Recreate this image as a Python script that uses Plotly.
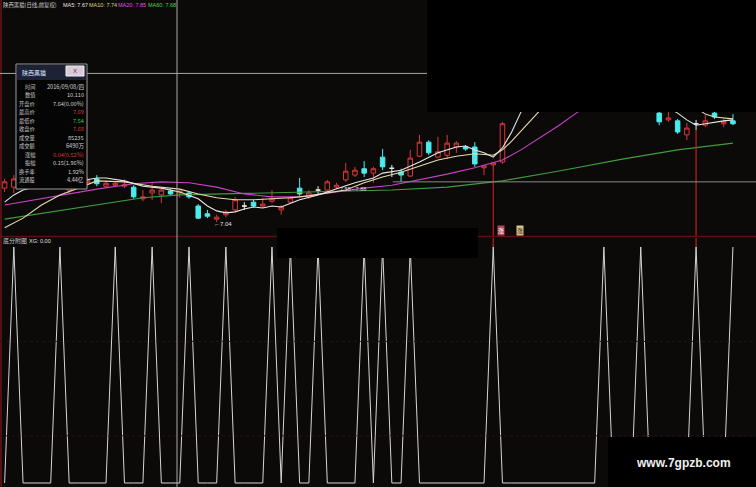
import plotly.graph_objects as go

W, H = 756, 487
BG = "#0c0909"

# ---------------- data ----------------
bars = list(range(-1, 79))
opens = [7.74, 7.76, 7.85, 7.90, 7.86, 7.93, 7.88, 7.70, 7.78, 7.86,
         7.93, 7.78, 7.80, 7.78, 7.76, 7.52, 7.64, 7.60, 7.68, 7.64,
         7.64, 7.37, 7.21, 7.10, 7.19, 7.29, 7.37, 7.45, 7.37, 7.47,
         7.29, 7.45, 7.74, 7.56, 7.70, 7.70, 7.76, 7.91, 8.01, 8.14,
         8.05, 8.38, 8.15, 8.07, 7.99, 8.40, 8.69, 8.38, 8.42, 8.59,
         8.59, 8.59, 8.16, 8.22, 8.28, 9.40, 10.20, 10.90, 10.50, 10.30,
         10.50, 10.40, 10.00, 10.20, 9.90, 9.70, 9.80, 9.65, 9.50, 9.70,
         9.50, 9.29, 9.15, 9.13, 8.84, 9.07, 9.04, 9.29, 9.07, 9.13]
highs = [7.93, 8.01, 7.95, 7.98, 7.96, 8.02, 7.95, 7.82, 7.90, 7.96,
         8.01, 7.90, 7.88, 7.92, 7.80, 7.70, 7.87, 7.76, 7.72, 7.69,
         7.68, 7.41, 7.29, 7.19, 7.29, 7.56, 7.45, 7.50, 7.54, 7.70,
         7.39, 7.58, 7.95, 7.70, 7.78, 7.91, 7.85, 8.26, 8.18, 8.30,
         8.18, 8.55, 8.22, 8.14, 8.53, 8.84, 8.73, 8.80, 8.84, 8.71,
         8.63, 8.69, 8.22, 8.28, 9.11, 9.97, 10.97, 11.30, 10.80, 10.60,
         10.90, 10.50, 10.30, 10.40, 10.10, 9.90, 10.00, 9.80, 9.75, 9.85,
         9.70, 9.35, 9.33, 9.17, 9.09, 9.15, 9.25, 9.33, 9.17, 9.27]
lows = [7.66, 7.64, 7.80, 7.82, 7.80, 7.86, 7.78, 7.62, 7.74, 7.80,
        7.78, 7.74, 7.76, 7.74, 7.52, 7.47, 7.50, 7.43, 7.60, 7.54,
        7.52, 7.10, 7.12, 7.04, 7.14, 7.25, 7.29, 7.35, 7.33, 7.43,
        7.19, 7.43, 7.58, 7.52, 7.60, 7.66, 7.72, 7.87, 7.97, 7.97,
        7.85, 8.11, 7.97, 7.87, 7.97, 8.38, 8.42, 8.36, 8.34, 8.47,
        8.51, 8.18, 8.01, 8.09, 8.24, 9.40, 10.10, 10.50, 10.10, 10.00,
        10.30, 9.90, 9.80, 9.90, 9.60, 9.50, 9.60, 9.45, 9.40, 9.45,
        9.40, 9.04, 9.11, 8.86, 8.73, 8.94, 9.00, 9.17, 9.00, 9.04]
closes = [7.87, 7.93, 7.90, 7.86, 7.93, 7.88, 7.83, 7.76, 7.86, 7.90,
          7.83, 7.84, 7.84, 7.82, 7.56, 7.56, 7.70, 7.70, 7.62, 7.68,
          7.56, 7.12, 7.16, 7.14, 7.25, 7.50, 7.37, 7.37, 7.41, 7.52,
          7.35, 7.54, 7.62, 7.64, 7.70, 7.87, 7.80, 8.09, 8.11, 8.05,
          8.14, 8.18, 8.15, 8.01, 8.36, 8.69, 8.47, 8.49, 8.67, 8.67,
          8.55, 8.24, 8.20, 8.26, 9.07, 9.97, 10.97, 10.60, 10.30, 10.50,
          10.40, 10.00, 10.20, 9.95, 9.70, 9.80, 9.65, 9.50, 9.70, 9.50,
          9.55, 9.11, 9.19, 8.90, 8.98, 9.07, 9.13, 9.21, 9.11, 9.07]

ma5_bars = [-1, 0, 1, 3, 6, 8, 9, 10, 12, 14, 16, 18, 20, 21, 22, 23, 24, 25, 26, 27,
            28, 29, 30, 31, 33, 35, 37, 39, 40, 42, 44, 46, 48, 49, 50, 51, 52, 53, 54, 55,
            56, 58, 62, 66, 69, 71, 72, 73, 74, 75, 76, 77, 78]
ma5_vals = [7.45, 7.60, 7.70, 7.80, 7.85, 7.91, 7.95, 7.95, 7.89, 7.78, 7.74, 7.66, 7.52, 7.37, 7.27, 7.23, 7.25, 7.31, 7.35, 7.33,
            7.37, 7.35, 7.43, 7.50, 7.60, 7.72, 7.85, 7.95, 8.05, 8.11, 8.28, 8.47, 8.59, 8.61, 8.53, 8.47, 8.38, 8.57, 8.90, 9.31,
            9.66, 10.35, 10.49, 10.08, 9.56, 9.40, 9.29, 9.15, 9.04, 9.07, 9.11, 9.13, 9.15]
ma10_bars = [-1, 1, 3, 5, 7, 9, 12, 15, 18, 20, 22, 24, 26, 28, 30, 32, 34, 36, 38, 40,
             42, 44, 46, 48, 50, 52, 53, 54, 55, 56, 57, 59, 63, 67, 71, 74, 75, 76, 77, 78]
ma10_vals = [6.92, 7.12, 7.39, 7.60, 7.74, 7.89, 7.87, 7.78, 7.72, 7.62, 7.54, 7.50, 7.50, 7.52, 7.54, 7.58, 7.64, 7.70, 7.85, 7.97,
             8.07, 8.20, 8.32, 8.40, 8.45, 8.42, 8.53, 8.71, 8.92, 9.13, 9.33, 9.73, 10.18, 10.08, 9.66, 9.40, 9.27, 9.21, 9.19, 9.17]
ma20_bars = [-1, 4, 9, 13, 16, 19, 22, 25, 28, 31, 34, 38, 41, 44, 47, 50, 53, 55, 57, 59,
             61, 64, 68, 72, 78]
ma20_vals = [7.39, 7.56, 7.72, 7.83, 7.87, 7.85, 7.76, 7.62, 7.56, 7.56, 7.64, 7.74, 7.80, 7.91, 8.03, 8.16, 8.32, 8.53, 8.78, 9.02,
             9.29, 9.66, 9.87, 9.97, 10.02]
ma60_bars = [-1, 4, 9, 14, 18, 26, 33, 41, 47, 53, 59, 66, 72, 78]
ma60_vals = [7.10, 7.25, 7.39, 7.54, 7.60, 7.64, 7.66, 7.70, 7.76, 7.89, 8.09, 8.34, 8.53, 8.67]

# XG signal of the lower panel (one value per bar)
xg = [0, 1, 0, 0, 0, 0, 1, 0, 0, 0,
      0, 0, 1, 0, 0, 0, 1, 0, 0, 0,
      1, 0, 0, 0, 1, 0, 0, 0, 0, 1,
      0, 1, 0, 0, 1, 0, 0, 0, 0, 1,
      0, 1, 0, 0, 1, 0, 0, 0, 0, 0,
      0, 0, 0, 1, 0, 0, 0, 0, 0, 0,
      0, 0, 0, 0, 0, 1, 0, 0, 0, 1,
      0, 0, 0, 0, 0, 1, 0, 0, 0, 1]

signal_bars = [52, 74]
cursor_bar = 17.7
cursor_price = 10.11

title_name = "陕西黑猫(日线,前复权)"
ma_labels = ["MA5: 7.67", "MA10: 7.74", "MA20: 7.85", "MA60: 7.68"]
info_labels = ["时间", "数值", "开盘价", "最高价", "最低价", "收盘价", "成交量", "成交额", "涨幅", "振幅", "换手率", "流通股"]
info_values = ["2016/09/08/四", "10.110", "7.64(0.00%)", "7.69", "7.54", "7.68", "85235", "6490万",
               "0.04(0.52%)", "0.15(1.96%)", "1.92%", "4.44亿"]

# ---------------- styles ----------------
RED = "#d83838"
CYAN = "#4cecec"
C_MA5, C_MA10, C_MA20, C_MA60 = "#e8e8e8", "#e6dcaa", "#c444c4", "#3f9c3f"
CJK = "Noto Sans CJK SC"
X_RANGE = [-1.5, 80.5]
Y_MAIN = [6.751, 11.627]
Y_SUB = [-0.017, 1.038]


def px(x):
    return x / W


def py(y):
    return 1 - y / H


fig = go.Figure()

up = [i for i in range(len(bars)) if closes[i] > opens[i]]
dn = [i for i in range(len(bars)) if closes[i] < opens[i]]
fl = [i for i in range(len(bars)) if closes[i] == opens[i]]


def candle(idx, inc_line, inc_fill, dec_line, dec_fill):
    return go.Candlestick(
        x=[bars[i] for i in idx], open=[opens[i] for i in idx], high=[highs[i] for i in idx],
        low=[lows[i] for i in idx], close=[closes[i] for i in idx],
        increasing=dict(line=dict(color=inc_line, width=1), fillcolor=inc_fill),
        decreasing=dict(line=dict(color=dec_line, width=1), fillcolor=dec_fill),
        whiskerwidth=0, xaxis="x", yaxis="y", hoverinfo="skip")


fig.add_trace(candle(up, RED, BG, RED, BG))
fig.add_trace(candle(dn, CYAN, CYAN, CYAN, CYAN))
fig.add_trace(candle(fl, "#e8e8e8", "#e8e8e8", "#e8e8e8", "#e8e8e8"))

for xs, ys, col in [(ma60_bars, ma60_vals, C_MA60), (ma20_bars, ma20_vals, C_MA20),
                    (ma10_bars, ma10_vals, C_MA10), (ma5_bars, ma5_vals, C_MA5)]:
    fig.add_trace(go.Scatter(x=xs, y=ys, mode="lines", line=dict(color=col, width=1.1),
                             xaxis="x", yaxis="y", hoverinfo="skip"))

for b in signal_bars:
    lo = lows[bars.index(b)]
    fig.add_trace(go.Scatter(x=[b, b], y=[lo, Y_MAIN[0]], mode="lines",
                             line=dict(color="#c02020", width=1.2), xaxis="x", yaxis="y", hoverinfo="skip"))
    fig.add_trace(go.Scatter(x=[b, b], y=[1.0, Y_SUB[1]], mode="lines",
                             line=dict(color="#c02020", width=1.2), xaxis="x2", yaxis="y2", hoverinfo="skip"))

fig.add_trace(go.Scatter(x=bars, y=xg, mode="lines", line=dict(color="#d6d6d6", width=1),
                         xaxis="x2", yaxis="y2", hoverinfo="skip"))

# gap reference line
fig.add_trace(go.Scatter(x=[41.1, 80.5], y=[7.87, 7.87], mode="lines",
                         line=dict(color="#8a8a8a", width=1), xaxis="x", yaxis="y", hoverinfo="skip"))

shapes = []
# panel frame / grid
shapes.append(dict(type="line", xref="paper", yref="paper", x0=0, x1=1, y0=py(236.5), y1=py(236.5),
                   line=dict(color="#5a1212", width=1.5)))
shapes.append(dict(type="line", xref="paper", yref="paper", x0=px(1), x1=px(1), y0=0, y1=1,
                   line=dict(color="#6a1616", width=1.5)))
for gv in [0.2, 0.6]:
    shapes.append(dict(type="line", xref="paper", yref="y2", x0=0, x1=1, y0=gv, y1=gv,
                       line=dict(color="#301010", width=1, dash="dot")))
# crosshair
shapes.append(dict(type="line", xref="x", yref="paper", x0=cursor_bar, x1=cursor_bar, y0=0, y1=1,
                   line=dict(color="#a8a8a8", width=1)))
shapes.append(dict(type="line", xref="paper", yref="y", x0=0, x1=1, y0=cursor_price, y1=cursor_price,
                   line=dict(color="#a8a8a8", width=1)))
# redaction boxes
for (x0, y0, x1, y1) in [(427, 0, 756, 112), (277, 228, 478, 258), (608, 437, 756, 487)]:
    shapes.append(dict(type="rect", xref="paper", yref="paper", x0=px(x0), x1=px(x1), y0=py(y1), y1=py(y0),
                       fillcolor="#000000", line=dict(width=0)))
# info box
shapes.append(dict(type="rect", xref="paper", yref="paper", x0=px(16), x1=px(87), y0=py(189), y1=py(64),
                   fillcolor="#050505", line=dict(color="#9a9a9a", width=1)))
shapes.append(dict(type="rect", xref="paper", yref="paper", x0=px(17), x1=px(86), y0=py(80), y1=py(65),
                   fillcolor="#1e2236", line=dict(width=0)))
shapes.append(dict(type="rect", xref="paper", yref="paper", x0=px(66), x1=px(84), y0=py(76), y1=py(66),
                   fillcolor="#d9c9d9", line=dict(color="#f0f0f0", width=1)))

annotations = []


def ann(x, y, text, color, size, xanchor="left", family=CJK, **kw):
    d = dict(xref="paper", yref="paper", x=px(x), y=py(y), text=text, showarrow=False,
             xanchor=xanchor, yanchor="middle", font=dict(color=color, size=size, family=family))
    d.update(kw)
    annotations.append(d)


ann(1, 5, title_name, "#c8c8c8", 5.4)
for x, t, c in zip([61, 87, 116, 146], ma_labels, ["#e4e4e4", "#dcd880", "#e050e0", "#50d050"]):
    ann(x, 5, t, c, 5.5, family="Liberation Sans")

ann(20, 73, "陕西黑猫", "#d8e4ff", 6)
ann(75, 71, "X", "#404040", 6, xanchor="center", family="Liberation Sans")
val_colors = ["#d0d0d0", "#d0d0d0", "#d0d0d0", RED, "#30d030", RED, "#d0d0d0", "#d0d0d0",
              RED, "#d0d0d0", "#d0d0d0", "#d0d0d0"]
for k, (lab, val, vc) in enumerate(zip(info_labels, info_values, val_colors)):
    yy = 87 + k * 8.45
    ann(37, yy, lab, "#c8c8c8", 5.2, xanchor="right")
    ann(86, yy, val, vc, 5.6, xanchor="right")

ann(212, 224, "←7.04", "#e0e0e0", 6, family="Liberation Sans")
ann(338, 189, "7.55 - 7.88", "#d8d8d8", 5.5, family="Liberation Sans")
ann(501, 230, "涨", "#ffffff", 6, xanchor="center", bgcolor="#b04858", borderpad=0)
ann(520, 230, "涨", "#302010", 6, xanchor="center", bgcolor="#d6c48a", borderpad=0)

ann(1, 241, "底分附图", "#c8c8c8", 6)
ann(27, 241, "XG: 0.00", "#e0e0e0", 5.5, family="Liberation Sans")

ann(683, 463, "<b>www.7gpzb.com</b>", "#f0f0f0", 12, xanchor="center", family="Liberation Sans")

axis_common = dict(showgrid=False, zeroline=False, showticklabels=False, showline=False, ticks="", fixedrange=True)
fig.update_layout(
    width=W, height=H, margin=dict(l=0, r=0, t=0, b=0),
    paper_bgcolor=BG, plot_bgcolor=BG, showlegend=False, hovermode=False,
    xaxis=dict(domain=[0, 1], range=X_RANGE, anchor="y", rangeslider=dict(visible=False), **axis_common),
    yaxis=dict(domain=[py(236), 1], range=Y_MAIN, anchor="x", **axis_common),
    xaxis2=dict(domain=[0, 1], range=X_RANGE, anchor="y2", **axis_common),
    yaxis2=dict(domain=[0, py(238)], range=Y_SUB, anchor="x2", **axis_common),
    shapes=shapes, annotations=annotations,
)

fig.write_html("out.html", config={"displayModeBar": False, "staticPlot": True},
               post_script="document.body.style.margin='0';document.body.style.overflow='hidden';")
